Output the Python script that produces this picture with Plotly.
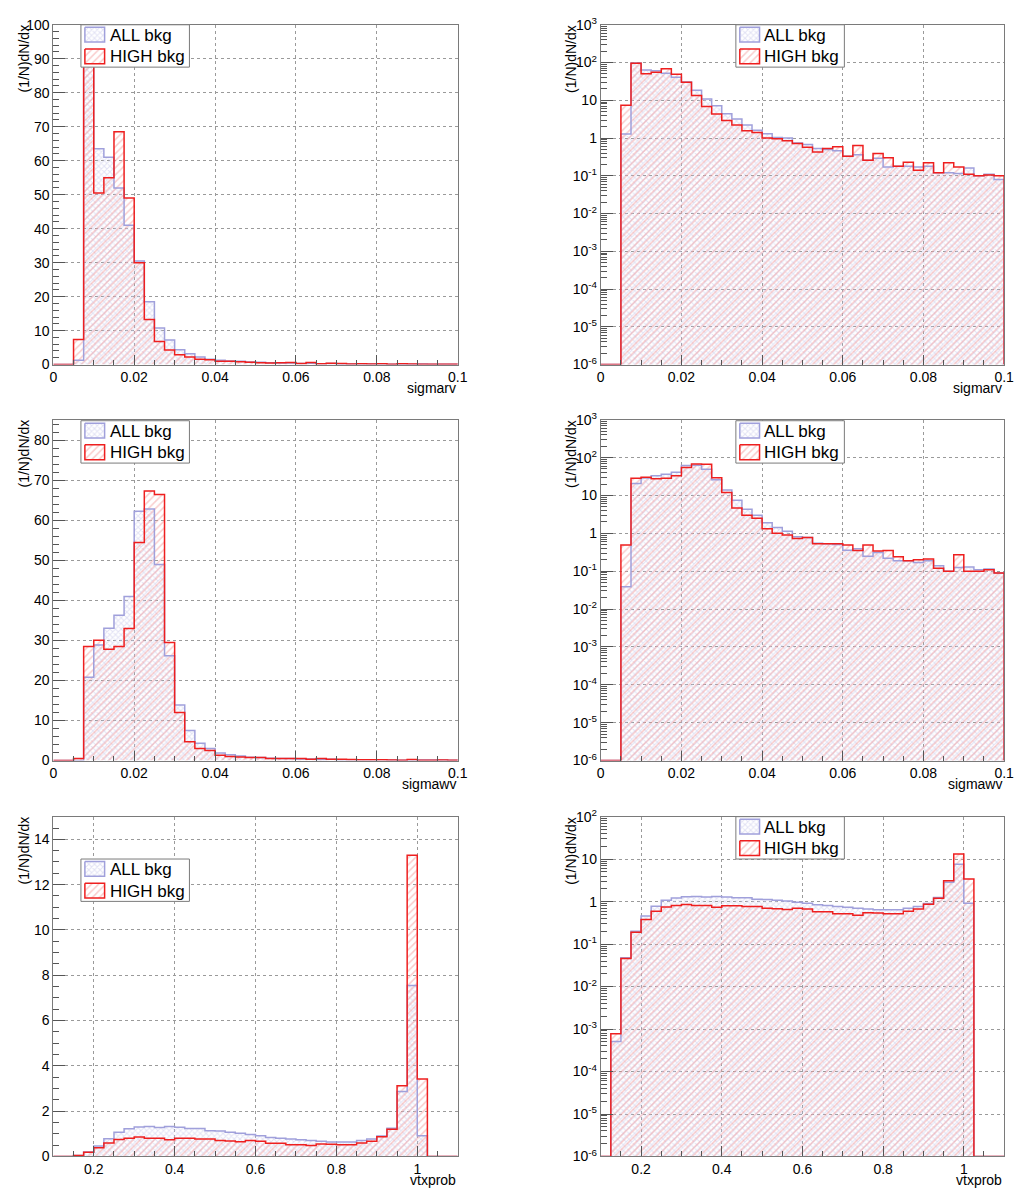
import numpy as np
import plotly.graph_objects as go

# ---------------- data ----------------
sig_edges = np.linspace(0.0, 0.1, 41)      # sigmarv / sigmawv binning
vtx_edges = np.linspace(0.1, 1.1, 41)      # vtxprob binning

all_sigmarv = [0, 0, 1.27, 97, 63.5, 61, 52, 41, 30.5, 18.5, 10.8, 7.2, 4.4, 3.2, 2.2, 1.6,
               1.3, 1.04, 1.0, 0.74, 0.67, 0.53, 0.5, 0.46, 0.33, 0.36, 0.26, 0.29,
               0.17, 0.18, 0.18, 0.17, 0.18, 0.12, 0.12, 0.115, 0.16, 0.1, 0.11, 0.08]
high_sigmarv = [0, 0, 7.4, 96, 50.5, 55, 68.5, 49, 30, 13.3, 6.8, 4.3, 2.9, 2.2, 1.55, 1.4,
                1.0, 0.96, 0.85, 0.72, 0.57, 0.43, 0.53, 0.59, 0.33, 0.63, 0.26, 0.39,
                0.3, 0.18, 0.23, 0.14, 0.22, 0.12, 0.22, 0.17, 0.11, 0.1, 0.105, 0.1]

all_sigmawv = [0, 0, 0.039, 20.8, 28.9, 33.1, 36.3, 41.0, 62.3, 62.9, 49.0, 26.2, 13.9, 7.5, 4.3, 3.0,
               1.9, 1.42, 1.13, 0.81, 0.78, 0.55, 0.53, 0.51, 0.36, 0.39, 0.25, 0.31,
               0.22, 0.19, 0.19, 0.17, 0.19, 0.14, 0.1, 0.125, 0.13, 0.11, 0.115, 0.09]
high_sigmawv = [0, 0, 0.49, 28.5, 30.1, 27.8, 28.5, 33.0, 54.5, 67.4, 66.5, 29.5, 12.0, 4.7, 3.0, 2.5,
                1.33, 1.0, 0.9, 0.73, 0.78, 0.53, 0.53, 0.53, 0.49, 0.35, 0.49, 0.34,
                0.35, 0.24, 0.19, 0.2, 0.21, 0.12, 0.1, 0.27, 0.1, 0.1, 0.11, 0.09]

all_vtxprob = [0, 5.1e-4, 0.048, 0.2, 0.46, 0.78, 1.07, 1.22, 1.30, 1.32, 1.28, 1.32, 1.29, 1.23,
               1.23, 1.14, 1.12, 1.07, 1.03, 0.97, 0.91, 0.84, 0.81, 0.77, 0.74, 0.70, 0.67,
               0.64, 0.64, 0.64, 0.70, 0.77, 0.90, 1.25, 2.87, 7.55, 0.91, 0, 0, 0]
high_vtxprob = [0, 7.7e-4, 0.046, 0.19, 0.38, 0.59, 0.75, 0.81, 0.86, 0.81, 0.81, 0.74, 0.80, 0.80,
                0.77, 0.77, 0.70, 0.68, 0.65, 0.70, 0.67, 0.58, 0.58, 0.52, 0.52, 0.48, 0.55,
                0.54, 0.52, 0.52, 0.59, 0.67, 0.87, 1.20, 3.12, 13.3, 3.42, 0, 0, 0]

series_names = ["ALL bkg", "HIGH bkg"]
x_titles = ["sigmarv", "sigmarv", "sigmawv", "sigmawv", "vtxprob", "vtxprob"]
y_title = "(1/N)dN/dx"
log_ticks = [1e-6, 1e-5, 1e-4, 1e-3, 1e-2, 1e-1, 1, 10, 100, 1000]
log_ticktext = ["10<sup>-6</sup>", "10<sup>-5</sup>", "10<sup>-4</sup>", "10<sup>-3</sup>",
                "10<sup>-2</sup>", "10<sup>-1</sup>", "1", "10", "10<sup>2</sup>", "10<sup>3</sup>"]

# ---------------- style / layout ----------------
W, H = 1025, 1196
FONT = "Liberation Sans, Arial, Helvetica, sans-serif"
ALL_LINE = "#a0a0db"
HIGH_LINE = "#ee1f1f"
ALL_PAT = dict(shape="x", fgcolor="#c6c6ea", bgcolor="rgba(255,255,255,0)", size=4, solidity=0.45)
HIGH_PAT = dict(shape="/", fgcolor="#f39a9a", bgcolor="rgba(255,255,255,0)", size=5, solidity=0.3)

def px_x(p):
    return p / W

def px_y(p):
    return 1 - p / H

col_x = [(50, 460), (605, 1014)]
row_y = [(15, 360), (416, 762), (819, 1164)]
leg_box = [(78, 15), (742, 15), (78, 417), (742, 417), (78, 862), (742, 819)]
LEG_W, LEG_H = 110, 43

panels = [
    dict(edges=sig_edges, all=all_sigmarv, high=high_sigmarv, log=False, yr=[0, 100], ydt=10, ymin=2),
    dict(edges=sig_edges, all=all_sigmarv, high=high_sigmarv, log=True, yr=[-6, 3]),
    dict(edges=sig_edges, all=all_sigmawv, high=high_sigmawv, log=False, yr=[0, 85.2], ydt=10, ymin=2),
    dict(edges=sig_edges, all=all_sigmawv, high=high_sigmawv, log=True, yr=[-6, 3]),
    dict(edges=vtx_edges, all=all_vtxprob, high=high_vtxprob, log=False, yr=[0, 15], ydt=2, ymin=0.5),
    dict(edges=vtx_edges, all=all_vtxprob, high=high_vtxprob, log=True, yr=[-6, 2]),
]

fig = go.Figure()
layout = dict(width=W, height=H, margin=dict(l=0, r=0, t=0, b=0),
              paper_bgcolor="white", plot_bgcolor="rgba(0,0,0,0)", barmode="overlay",
              showlegend=False,
              font=dict(family=FONT, size=14, color="black"), annotations=[])

for i, p in enumerate(panels):
    n = i + 1
    sx = "" if n == 1 else str(n)
    xa, ya = "x" + sx, "y" + sx
    r, c = divmod(i, 2)
    x0, x1 = col_x[c]
    y0, y1 = row_y[r]
    edges = p["edges"]
    centers = 0.5 * (edges[:-1] + edges[1:])
    bw = edges[1] - edges[0]
    floor = 1e-6 if p["log"] else 0.0

    for vals, pat in ((p["all"], ALL_PAT), (p["high"], HIGH_PAT)):
        yb = [v if v > 0 else None for v in vals]
        fig.add_trace(go.Bar(x=centers, y=yb, width=bw, xaxis=xa, yaxis=ya,
                             marker=dict(color="rgba(0,0,0,0)", pattern=pat, line=dict(width=0)),
                             hoverinfo="skip"))
    for vals, lc in ((p["all"], ALL_LINE), (p["high"], HIGH_LINE)):
        vv = [v if v > 0 else floor for v in vals]
        xs = [edges[0]] + list(edges[:-1]) + [edges[-1]]
        ys = [floor] + vv + [floor]
        fig.add_trace(go.Scatter(x=xs, y=ys, mode="lines", line=dict(color=lc, width=1.5, shape="hv"),
                                 xaxis=xa, yaxis=ya, hoverinfo="skip"))

    is_vtx = edges is vtx_edges
    xaxis = dict(domain=[px_x(x0), px_x(x1)], anchor=ya,
                 range=[edges[0], edges[-1]],
                 showline=True, linecolor="#7a7a7a", linewidth=1, mirror=True,
                 ticks="inside", ticklen=10, tickcolor="#555", tickwidth=1,
                 tick0=0.2 if is_vtx else 0, dtick=0.2 if is_vtx else 0.02,
                 minor=dict(ticks="inside", ticklen=5, tickcolor="#555",
                            dtick=0.05 if is_vtx else 0.005, showgrid=False),
                 showgrid=True, gridcolor="#9a9a9a", griddash="dot", gridwidth=1,
                 zeroline=False, tickfont=dict(family=FONT, size=14, color="black"))
    if p["log"]:
        lo, hi = p["yr"]
        tv = [t for t in log_ticks if 10 ** lo <= t <= 10 ** hi]
        tt = [log_ticktext[log_ticks.index(t)] for t in tv]
        minor_vals = [k * 10.0 ** e for e in range(lo, hi) for k in range(2, 10)]
        yaxis = dict(type="log", range=[lo, hi], tickvals=tv, ticktext=tt,
                     minor=dict(tickvals=minor_vals, ticks="inside", ticklen=6,
                                tickcolor="#555", showgrid=False))
    else:
        yaxis = dict(range=p["yr"], tick0=0, dtick=p["ydt"],
                     minor=dict(ticks="inside", ticklen=6, tickcolor="#555",
                                dtick=p["ymin"], showgrid=False))
    yaxis.update(domain=[px_y(y1), px_y(y0)], anchor=xa,
                 showline=True, linecolor="#7a7a7a", linewidth=1, mirror=True,
                 ticks="inside", ticklen=12, tickcolor="#555", tickwidth=1,
                 showgrid=True, gridcolor="#9a9a9a", griddash="dot", gridwidth=1,
                 zeroline=False, tickfont=dict(family=FONT, size=14, color="black"))
    layout["xaxis" + sx] = xaxis
    layout["yaxis" + sx] = yaxis

    # axis titles
    layout["annotations"].append(dict(text=x_titles[i], xref="paper", yref="paper",
                                      x=px_x(x1), y=px_y(y1 + 24), xanchor="right", yanchor="middle",
                                      showarrow=False, font=dict(family=FONT, size=14, color="black")))
    layout["annotations"].append(dict(text=y_title, xref="paper", yref="paper", textangle=-90,
                                      x=px_x(x0 - 30), y=px_y(y0 - 2), xanchor="center", yanchor="top",
                                      showarrow=False, font=dict(family=FONT, size=14, color="black")))

# ---------------- legends (drawn on a pixel-coordinate overlay axis) ----------------
layout["xaxis7"] = dict(domain=[0, 1], range=[0, W], visible=False, fixedrange=True, anchor="y7")
layout["yaxis7"] = dict(domain=[0, 1], range=[H, 0], visible=False, fixedrange=True, anchor="x7")

def rect(xl, yt, w, h):
    return [xl, xl + w, xl + w, xl, xl], [yt, yt, yt + h, yt + h, yt]

for bx, by in leg_box:
    rx, ry = rect(bx, by, LEG_W, LEG_H)
    fig.add_trace(go.Scatter(x=rx, y=ry, xaxis="x7", yaxis="y7", mode="lines", fill="toself",
                             fillcolor="white", line=dict(color="#7a7a7a", width=1), hoverinfo="skip"))
    for k, (name, pat, lc) in enumerate(((series_names[0], ALL_PAT, ALL_LINE),
                                         (series_names[1], HIGH_PAT, HIGH_LINE))):
        sy = by + 2.5 + 22 * k
        sxs, sys_ = rect(bx + 4, sy, 20, 15)
        fig.add_trace(go.Scatter(x=sxs, y=sys_, xaxis="x7", yaxis="y7", mode="lines", fill="toself",
                                 fillcolor="rgba(0,0,0,0)", fillpattern=pat,
                                 line=dict(color=lc, width=1.5), hoverinfo="skip"))
        layout["annotations"].append(dict(text=name, xref="paper", yref="paper",
                                          x=px_x(bx + 27), y=px_y(sy + 8), xanchor="left", yanchor="middle",
                                          showarrow=False, font=dict(family=FONT, size=17, color="black")))

fig.update_layout(**layout)
fig.write_html("out.html", config={"displayModeBar": False},
               post_script="document.body.style.margin='0';document.body.style.overflow='hidden';")
